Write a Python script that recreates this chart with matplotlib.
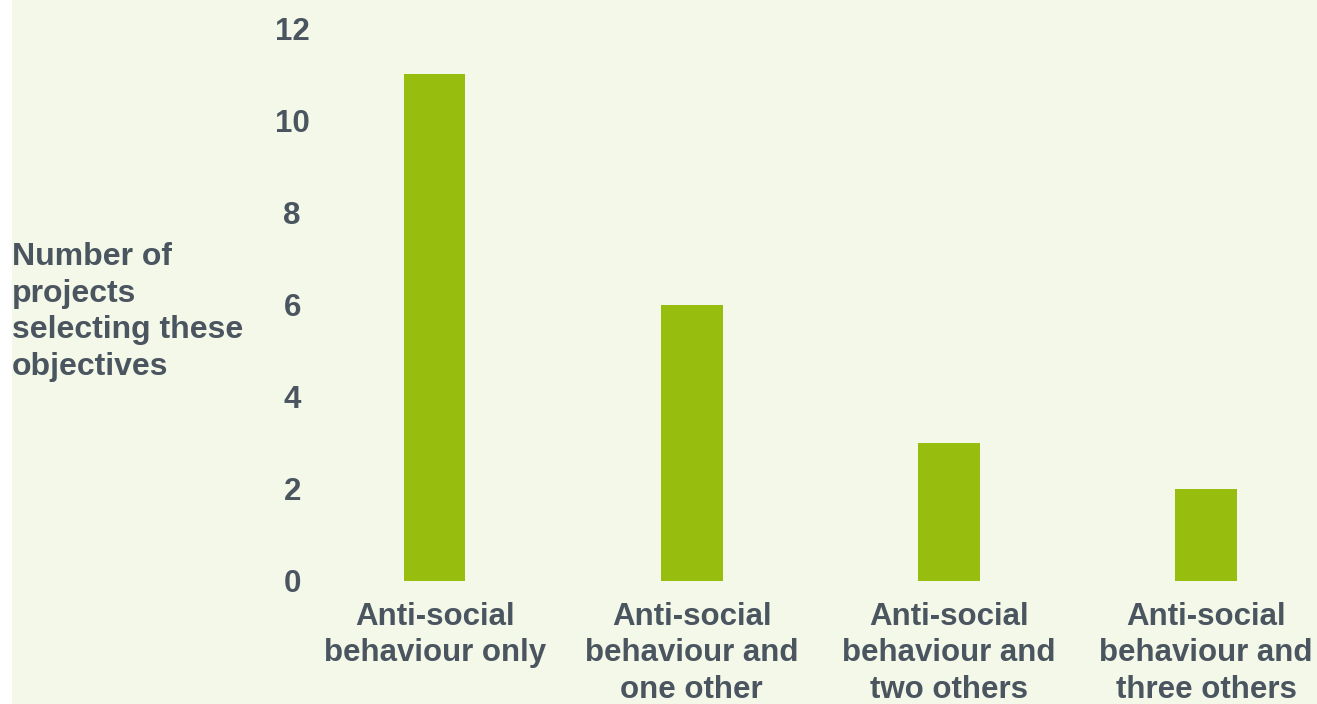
import matplotlib
matplotlib.use("Agg")
import matplotlib.pyplot as plt

categories = [
    "Anti-social\nbehaviour only",
    "Anti-social\nbehaviour and\none other",
    "Anti-social\nbehaviour and\ntwo others",
    "Anti-social\nbehaviour and\nthree others",
]
counts = [11, 6, 3, 2]
y_ticks = [0, 2, 4, 6, 8, 10, 12]

BG = "#F3F8E8"
BAR = "#97BD0E"
TEXT = "#4A5560"

W, H = 1317, 704
fig = plt.figure(figsize=(W / 100, H / 100), dpi=100)
fig.patch.set_facecolor("white")
# light green panel, white strip on the left
fig.patches.append(
    plt.Rectangle((12 / W, 0), 1, 1, transform=fig.transFigure,
                  facecolor=BG, edgecolor="none", zorder=-1)
)

left_px, right_px = 306, 1317
bottom_px, top_px = 581, 28
ax = fig.add_axes((left_px / W, (H - bottom_px) / H,
                   (right_px - left_px) / W, (bottom_px - top_px) / H))
ax.set_facecolor("none")

x = range(len(categories))
ax.bar(x, counts, width=0.24, color=BAR, zorder=2)

ax.set_xlim(-0.5, 3 + 111 / 257)
ax.set_ylim(0, 12)
ax.set_yticks(y_ticks)
ax.set_xticks(list(x))
ax.set_xticklabels(categories, fontsize=22.5, fontweight="bold",
                   color=TEXT, linespacing=1.28, family="Liberation Sans")
ax.set_yticklabels([str(t) for t in y_ticks], fontsize=22.5,
                   fontweight="bold", color=TEXT, family="Liberation Sans",
                   ha="center")
ax.tick_params(axis="x", length=0, pad=15)
ax.tick_params(axis="y", length=0, pad=10)
for s in ax.spines.values():
    s.set_visible(False)

fig.text(12 / W, (H - 312) / H,
         "Number of\nprojects\nselecting these\nobjectives",
         fontsize=23, fontweight="bold", color=TEXT, family="Liberation Sans",
         ha="left", va="center", linespacing=1.28)

fig.savefig("out.png", dpi=100, facecolor=fig.get_facecolor())
